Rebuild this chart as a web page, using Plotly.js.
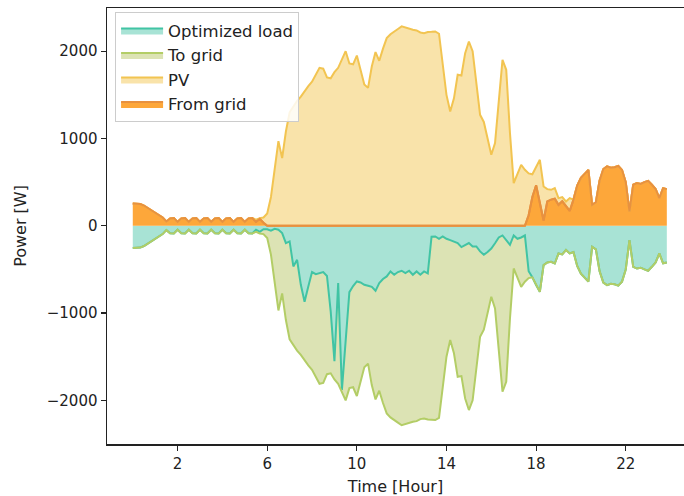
<!DOCTYPE html>
<html>
<head>
<meta charset="utf-8">
<script src="https://cdn.plot.ly/plotly-3.0.1.min.js"></script>
<style>
  html, body { margin: 0; padding: 0; background: #ffffff; }
  #chart { width: 684px; height: 496px; }
</style>
</head>
<body>
<div id="chart"></div>
<script>
// Sampling: one value every 10 minutes, 144 samples (rows below = one hour each)
const samplesPerHour = 6;

// From grid [W]
const fromGrid = [
  255, 255, 250, 232, 205, 180,
  155, 126, 95, 50, 85, 88,
  45, 85, 88, 45, 85, 88,
  45, 85, 88, 45, 85, 88,
  45, 85, 88, 45, 85, 88,
  45, 85, 88, 45, 80, 35,
  0, 0, 0, 0, 0, 0,
  0, 0, 0, 0, 0, 0,
  0, 0, 0, 0, 0, 0,
  0, 0, 0, 0, 0, 0,
  0, 0, 0, 0, 0, 0,
  0, 0, 0, 0, 0, 0,
  0, 0, 0, 0, 0, 0,
  0, 0, 0, 0, 0, 0,
  0, 0, 0, 0, 0, 0,
  0, 0, 0, 0, 0, 0,
  0, 0, 0, 0, 0, 0,
  0, 0, 0, 0, 120, 330,
  465, 250, 60, 280, 300, 310,
  240, 280, 220, 170, 300, 460,
  550, 600, 640, 240, 270, 520,
  650, 680, 665, 670, 685, 640,
  500, 164, 470, 490, 480, 500,
  515, 470, 420, 317, 430, 420
];

// PV [W] (stacked above "From grid")
const pv = [
  0, 0, 0, 0, 0, 0,
  0, 0, 0, 0, 0, 0,
  0, 0, 0, 0, 0, 0,
  0, 0, 0, 0, 0, 0,
  0, 0, 0, 0, 0, 0,
  0, 0, 0, 25, 8, 60,
  140, 330, 680, 970, 775, 1080,
  1300, 1370, 1430, 1480, 1545, 1600,
  1650, 1740, 1810, 1800, 1700, 1690,
  1760, 1810, 1900, 2000, 1860, 1850,
  1950, 1800, 1620, 1580, 1825, 1990,
  1890, 2030, 2150, 2195, 2230, 2255,
  2285, 2270, 2255, 2245, 2238, 2215,
  2207, 2219, 2222, 2226, 2200, 1860,
  1500, 1309, 1460, 1730, 1722, 1978,
  2111, 2000, 1630, 1271, 1190, 980,
  813, 947, 1405, 1901, 1787, 1062,
  489, 604, 699, 641, 480, 260,
  215, 506, 390, 140, 112, 122,
  77, 48, 58, 147, 0, 0,
  0, 0, 0, 0, 0, 0,
  0, 0, 0, 0, 0, 0,
  0, 0, 0, 0, 0, 0,
  0, 0, 0, 0, 0, 0
];

// Optimized load [W] (drawn downwards)
const optimizedLoad = [
  255, 255, 250, 232, 205, 180,
  155, 126, 95, 50, 85, 88,
  45, 85, 88, 45, 85, 88,
  45, 85, 88, 45, 85, 88,
  45, 85, 88, 45, 85, 88,
  45, 85, 88, 45, 70, 40,
  40, 55, 35, 45, 84, 198,
  179, 466, 390, 676, 870, 695,
  530, 555, 545, 530, 575, 980,
  1550, 656, 1880, 1350, 760, 690,
  638, 650, 676, 687, 700, 745,
  656, 610, 580, 523, 561, 530,
  515, 542, 515, 561, 523, 561,
  523, 545, 125, 122, 149, 122,
  149, 165, 179, 198, 244, 218,
  198, 237, 237, 294, 332, 300,
  260, 200, 134, 111, 160, 218,
  111, 149, 134, 110, 520, 590,
  680, 756, 450, 420, 412, 432,
  317, 328, 278, 317, 300, 460,
  550, 600, 640, 240, 270, 520,
  650, 680, 665, 670, 685, 640,
  500, 164, 470, 490, 480, 500,
  515, 470, 420, 317, 430, 420
];

// To grid [W] (drawn downwards, stacked below "Optimized load")
const toGrid = [
  0, 0, 0, 0, 0, 0,
  0, 0, 0, 0, 0, 0,
  0, 0, 0, 0, 0, 0,
  0, 0, 0, 0, 0, 0,
  0, 0, 0, 0, 0, 0,
  0, 0, 0, 25, 18, 55,
  100, 275, 645, 925, 691, 882,
  1121, 904, 1040, 804, 675, 905,
  1120, 1185, 1265, 1270, 1125, 710,
  210, 1154, 20, 650, 1100, 1160,
  1312, 1150, 944, 893, 1125, 1245,
  1234, 1420, 1570, 1672, 1669, 1725,
  1770, 1728, 1740, 1684, 1715, 1654,
  1684, 1674, 2097, 2104, 2051, 1738,
  1351, 1144, 1281, 1532, 1478, 1760,
  1913, 1763, 1393, 977, 858, 680,
  553, 747, 1271, 1790, 1627, 844,
  378, 455, 565, 531, 80, 0,
  0, 0, 0, 0, 0, 0,
  0, 0, 0, 0, 0, 0,
  0, 0, 0, 0, 0, 0,
  0, 0, 0, 0, 0, 0,
  0, 0, 0, 0, 0, 0,
  0, 0, 0, 0, 0, 0
];

const xTickVals = [2, 6, 10, 14, 18, 22];
const xTickText = ['2', '6', '10', '14', '18', '22'];
const yTickVals = [-2000, -1000, 0, 1000, 2000];
const yTickText = ['\u22122000', '\u22121000', '0', '1000', '2000'];

// time axis in hours
const hours = fromGrid.map((_, i) => i / samplesPerHour);
const neg = arr => arr.map(v => -v);

const C = {
  tealLine: '#41c4a4', tealFill: '#a8e3d5',
  greenLine: '#b3cd66', greenFill: '#dce3b4',
  yellowLine: '#f2c451', yellowFill: '#f9e3aa',
  orangeLine: '#e8913f', orangeFill: '#fda73a'
};

const traces = [
  { x: hours, y: neg(optimizedLoad), name: 'Optimized load', type: 'scatter', mode: 'lines',
    stackgroup: 'neg', fill: 'tozeroy', fillcolor: C.tealFill,
    line: { color: C.tealLine, width: 2 }, legendrank: 1 },
  { x: hours, y: neg(toGrid), name: 'To grid', type: 'scatter', mode: 'lines',
    stackgroup: 'neg', fill: 'tonexty', fillcolor: C.greenFill,
    line: { color: C.greenLine, width: 2 }, legendrank: 2 },
  { x: hours, y: fromGrid, name: 'From grid', type: 'scatter', mode: 'lines',
    stackgroup: 'pos', fill: 'tozeroy', fillcolor: C.orangeFill,
    line: { color: C.orangeLine, width: 2 }, legendrank: 4 },
  { x: hours, y: pv, name: 'PV', type: 'scatter', mode: 'lines',
    stackgroup: 'pos', fill: 'tonexty', fillcolor: C.yellowFill,
    line: { color: C.yellowLine, width: 2 }, legendrank: 3 },
  { x: hours, y: fromGrid, name: 'From grid edge', type: 'scatter', mode: 'lines',
    showlegend: false, hoverinfo: 'skip',
    line: { color: C.orangeLine, width: 2 } }
];

const font = { family: 'DejaVu Sans, sans-serif', color: '#222222' };

const layout = {
  width: 684, height: 496,
  margin: { l: 107, r: 0, t: 8, b: 52 },
  paper_bgcolor: '#ffffff', plot_bgcolor: '#ffffff',
  font: Object.assign({ size: 15 }, font),
  showlegend: true,
  legend: {
    x: 0.014, y: 0.99, xanchor: 'left', yanchor: 'top',
    bgcolor: 'rgba(255,255,255,0.85)', bordercolor: '#cccccc', borderwidth: 1,
    traceorder: 'normal', itemwidth: 42,
    font: Object.assign({ size: 16.5 }, font)
  },
  xaxis: {
    range: [-1.15, 24.6], tickmode: 'array', tickvals: xTickVals, ticktext: xTickText,
    showgrid: false, zeroline: false,
    showline: true, mirror: true, linecolor: '#222222', linewidth: 1.5,
    ticks: 'outside', ticklen: 5, tickwidth: 1.2, tickcolor: '#222222',
    tickfont: Object.assign({ size: 15 }, font),
    title: { text: 'Time [Hour]', font: Object.assign({ size: 16 }, font), standoff: 10 }
  },
  yaxis: {
    range: [-2500, 2495], tickmode: 'array', tickvals: yTickVals, ticktext: yTickText,
    showgrid: false, zeroline: false,
    showline: true, mirror: false, linecolor: '#222222', linewidth: 1.5,
    ticks: 'outside', ticklen: 5, tickwidth: 1.2, tickcolor: '#222222',
    tickfont: Object.assign({ size: 15 }, font),
    title: { text: 'Power [W]', font: Object.assign({ size: 16 }, font), standoff: 16 }
  }
};

Plotly.newPlot('chart', traces, layout, { displayModeBar: false, staticPlot: true });
</script>
</body>
</html>
